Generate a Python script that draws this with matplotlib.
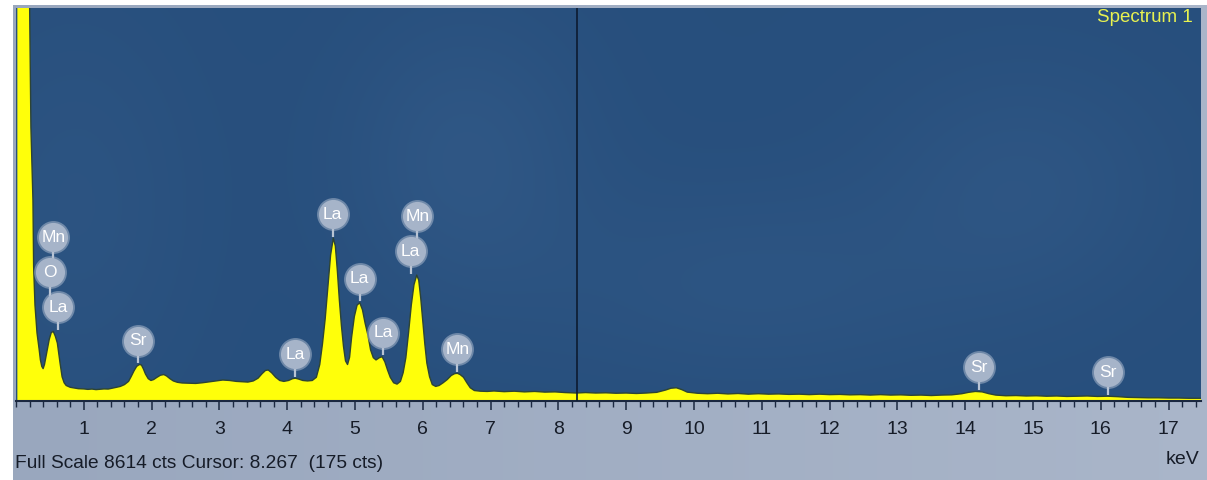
import numpy as np
import matplotlib
matplotlib.use("Agg")
import matplotlib.pyplot as plt
from matplotlib import font_manager
from matplotlib.ticker import MultipleLocator

# ---- spectrum (energy in keV, counts) ----
energy_kev = [
    0.02, 0.19, 0.20, 0.22, 0.25, 0.26, 0.28, 0.31, 0.34, 0.36, 0.38, 0.40,
    0.42, 0.44, 0.46, 0.49, 0.52, 0.55, 0.58, 0.61, 0.63, 0.65, 0.68, 0.71,
    0.74, 0.80, 0.86, 0.92, 1.00, 1.06, 1.12, 1.18, 1.24, 1.30, 1.36, 1.42,
    1.48, 1.54, 1.60, 1.66, 1.70, 1.74, 1.78, 1.82, 1.85, 1.88, 1.91, 1.95,
    1.99, 2.03, 2.08, 2.13, 2.18, 2.22, 2.27, 2.32, 2.38, 2.45, 2.55, 2.65,
    2.75, 2.85, 2.95, 3.05, 3.15, 3.25, 3.35, 3.42, 3.50, 3.57, 3.63, 3.68,
    3.72, 3.77, 3.83, 3.89, 3.95, 4.02, 4.08, 4.12, 4.17, 4.23, 4.30, 4.37,
    4.43, 4.48, 4.52, 4.56, 4.60, 4.64, 4.68, 4.71, 4.74, 4.77, 4.80, 4.83,
    4.86, 4.89, 4.92, 4.95, 4.99, 5.03, 5.07, 5.11, 5.15, 5.19, 5.23, 5.27,
    5.31, 5.36, 5.40, 5.44, 5.48, 5.52, 5.57, 5.62, 5.67, 5.71, 5.75, 5.79,
    5.83, 5.87, 5.91, 5.94, 5.97, 6.00, 6.03, 6.06, 6.10, 6.14, 6.19, 6.24,
    6.30, 6.36, 6.42, 6.47, 6.51, 6.55, 6.60, 6.65, 6.70, 6.76, 6.85, 6.95,
    7.05, 7.20, 7.35, 7.50, 7.65, 7.80, 7.95, 8.10, 8.267, 8.40, 8.55, 8.70,
    8.85, 9.00, 9.15, 9.30, 9.45, 9.58, 9.66, 9.74, 9.82, 9.90, 10.05, 10.20,
    10.35, 10.50, 10.65, 10.80, 10.95, 11.10, 11.25, 11.40, 11.55, 11.70,
    11.85, 12.00, 12.15, 12.30, 12.45, 12.60, 12.75, 12.90, 13.05, 13.20,
    13.35, 13.50, 13.65, 13.80, 13.95, 14.05, 14.15, 14.25, 14.35, 14.45,
    14.60, 14.75, 14.90, 15.05, 15.20, 15.35, 15.50, 15.65, 15.80, 15.95,
    16.10, 16.25, 16.40, 16.55, 16.70, 16.85, 17.00, 17.15, 17.30, 17.50,
]
counts = [
    16000, 16000, 8800, 6000, 4400, 2950, 2100, 1490, 1150, 900, 760, 710,
    800, 960, 1120, 1350, 1500, 1525, 1420, 1270, 1050, 830, 530, 400,
    340, 300, 285, 270, 265, 255, 262, 250, 258, 265, 262, 280,
    300, 320, 360, 430, 540, 660, 760, 800, 790, 700, 590, 490,
    450, 470, 520, 565, 580, 550, 490, 440, 410, 395, 390, 385,
    400, 420, 440, 460, 450, 430, 420, 415, 440, 500, 600, 670,
    680, 620, 520, 450, 430, 450, 490, 500, 480, 450, 440, 450,
    520, 800, 1250, 1800, 2500, 3200, 3570, 3400, 2850, 2200, 1650, 1200,
    880, 800, 960, 1400, 1850, 2100, 2155, 2000, 1700, 1450, 1120, 950,
    900, 950, 970, 860, 680, 520, 400, 370, 430, 620, 950, 1500,
    2100, 2550, 2760, 2650, 2250, 1750, 1250, 830, 530, 360, 320, 340,
    400, 470, 560, 600, 607, 580, 520, 400, 290, 230, 215, 210,
    220, 205, 215, 200, 210, 195, 200, 185, 175, 185, 175, 180,
    170, 175, 165, 175, 190, 240, 280, 290, 250, 195, 170, 160,
    170, 155, 165, 150, 160, 150, 155, 145, 150, 140,
    150, 140, 145, 135, 140, 130, 140, 130, 135, 125,
    130, 120, 130, 135, 160, 190, 210, 200, 160, 130,
    115, 120, 110, 115, 105, 110, 100, 105, 110, 100,
    105, 95, 80, 75, 70, 70, 65, 65, 60, 60,
]

full_scale = 8614
cursor_kev = 8.267
cursor_counts = 175
spectrum_name = "Spectrum 1"

# ---- element markers: symbol, energy (keV), stack level above the peak ----
label_text = ["La", "O", "Mn", "Sr", "La", "La", "La", "La", "La", "Mn", "Mn", "Sr", "Sr"]
label_kev = [0.62, 0.50, 0.55, 1.80, 4.12, 4.67, 5.07, 5.42, 5.82, 5.92, 6.51, 14.20, 16.10]
label_level = [0, 1, 2, 0, 0, 0, 0, 0, 0, 1, 0, 0, 0]

tick_values = list(range(1, 18))

# ---- fonts ----
installed = {f.name for f in font_manager.fontManager.ttflist}
narrow = "Liberation Sans Narrow" if "Liberation Sans Narrow" in installed else "Liberation Sans"
regular = "Liberation Sans"

W, H = 1207, 480
fig = plt.figure(figsize=(W / 100, H / 100), dpi=100, facecolor="white")

# instrument panel behind the plot
panel = fig.add_axes([13 / W, 0, 1 - 13 / W, 1 - 5 / H])
gx = np.linspace(0, 1, 300)
left_c = np.array([0.600, 0.655, 0.745])
right_c = np.array([0.665, 0.712, 0.790])
grad = left_c[None, :] * (1 - gx[:, None]) + right_c[None, :] * gx[:, None]
panel.imshow(grad[None, :, :], aspect="auto", extent=[0, 1, 0, 1])
panel.set_axis_off()

# plot area
x0, x1, y0, y1 = 16, 1201, 8, 401
ax = fig.add_axes([x0 / W, 1 - y1 / H, (x1 - x0) / W, (y1 - y0) / H])

# dark blue field with soft lighter patches
ny, nx = 200, 600
yy, xx = np.mgrid[0:1:ny * 1j, 0:1:nx * 1j]
base = np.array([0.155, 0.310, 0.490])
glow = np.zeros_like(xx)
for cx, cy, sx, sy, a in [(0.38, 0.62, 0.10, 0.35, 1.0), (0.62, 0.30, 0.18, 0.25, 0.7),
                          (0.85, 0.55, 0.12, 0.30, 0.8), (0.05, 0.50, 0.10, 0.50, 0.6)]:
    glow += a * np.exp(-(((xx - cx) / sx) ** 2 + ((yy - cy) / sy) ** 2))
glow = np.clip(glow, 0, 1)
field = base[None, None, :] + 0.030 * glow[:, :, None]
ax.imshow(field, extent=[0, 1, 0, 1], transform=ax.transAxes, aspect="auto",
          origin="lower", zorder=0)

e = np.array(energy_kev)
c = np.array(counts, dtype=float)
ax.fill_between(e, 0, c, color="#ffff0a", lw=0, zorder=2)
ax.plot(e, c, color="#2d4435", lw=1.0, zorder=3)

ax.axvline(cursor_kev, color="#0d1b30", lw=1.2, zorder=4)

ax.set_xlim(0, (x1 - x0) / 67.8)
ax.set_ylim(0, full_scale)

# element badges with stems
cts_per_px = full_scale / (y1 - y0)
centers = []
base_peak = 0.0
for sym, k, lvl in zip(label_text, label_kev, label_level):
    if lvl == 0:
        win = np.abs(e - k) <= 0.1
        base_peak = c[win].max() if win.any() else np.interp(k, e, c)
    yc = base_peak + (24 + 35 * lvl) * cts_per_px
    if lvl == 0:
        ylow = base_peak + 1.5 * cts_per_px
    else:
        ylow = centers[-1]
    ax.plot([k, k], [ylow, yc], color="#b9c4d4", lw=1.6, zorder=5, solid_capstyle="butt")
    ax.scatter([k], [yc], s=560, color="#b4c0d2", alpha=0.5, lw=0, zorder=6)
    ax.scatter([k], [yc], s=440, color="#a6b4c9", lw=0, zorder=6)
    ax.text(k, yc, sym, ha="center", va="center", color="white", fontsize=12.5,
            family=regular, zorder=7)
    centers.append(yc)

# axis styling
ax.set_xticks(tick_values)
ax.xaxis.set_minor_locator(MultipleLocator(0.2))
ax.tick_params(axis="x", which="major", direction="out", length=6.5, width=1.1,
               color="#1b2840", pad=8, labelsize=14, labelcolor="#161c28")
ax.tick_params(axis="x", which="minor", direction="out", length=4.3, width=1.0,
               color="#1b2840")
for lab in ax.get_xticklabels():
    lab.set_family(narrow)
ax.yaxis.set_visible(False)
for side in ("top", "left", "right"):
    ax.spines[side].set_visible(False)
ax.spines["bottom"].set_color("#1b2840")
ax.spines["bottom"].set_linewidth(1.5)

ax.text(0.9932, 0.977, spectrum_name, transform=ax.transAxes, ha="right", va="center",
        color="#e8f250", fontsize=13.5, family=narrow, zorder=8)

fig.text(15 / W, 1 - 464 / H,
         f"Full Scale {full_scale} cts Cursor: {cursor_kev:.3f}  ({cursor_counts} cts)",
         ha="left", va="center", fontsize=13.8, family=narrow, color="#161c28")
fig.text(1199 / W, 1 - 460 / H, "keV", ha="right", va="center", fontsize=14,
         family=narrow, color="#161c28")

fig.savefig("out.png", dpi=100, facecolor="white")
